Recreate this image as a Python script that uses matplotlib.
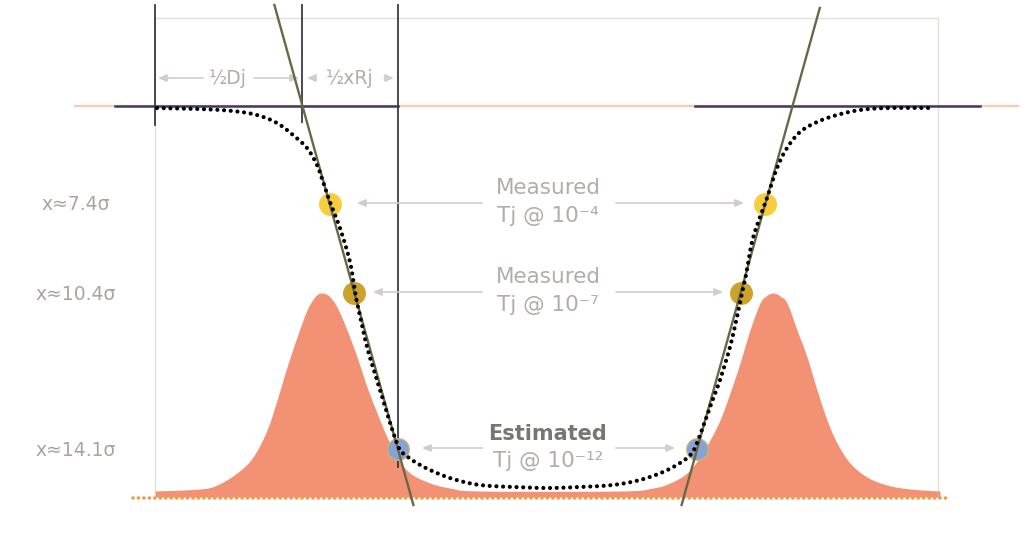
import matplotlib.pyplot as plt
import numpy as np

# bathtub curve (BER vs. sampling position), schematic units
tub_x = [157, 200, 233, 257, 277, 293, 307, 317, 323, 330, 340, 350, 355, 358, 367, 377, 387,
         394, 400, 408, 415, 430, 453, 480, 513, 547, 580, 613, 640, 663, 680, 692, 700, 710,
         720, 730, 737, 742, 746, 753, 767, 777, 787, 800, 817, 837, 860, 887, 933]
tub_y = [108, 109, 111, 115, 123, 135, 148, 165, 182, 202, 228, 262, 292, 307, 347, 380, 413,
         435, 450, 457, 462, 470, 479, 485, 487, 488, 487, 485, 480, 472, 463, 453, 435, 407,
         380, 347, 317, 293, 275, 238, 198, 168, 148, 132, 122, 115, 110, 108, 108]

# jitter histogram outline (two crossing peaks + floor)
hist_x = [155, 200, 217, 237, 253, 267, 277, 287, 297, 307, 314, 318, 322, 326, 330, 337, 347,
          357, 367, 377, 387, 397, 410, 430, 450, 480, 620, 653, 670, 687, 700, 710, 720, 730,
          740, 750, 760, 766, 769, 773, 777, 780, 787, 797, 807, 817, 827, 837, 850, 867, 887,
          910, 940]
hist_y = [491, 489, 485, 473, 457, 430, 400, 367, 337, 310, 298, 294, 293, 294, 297, 307, 330,
          357, 387, 413, 437, 457, 473, 483, 488, 491, 491, 488, 483, 473, 457, 440, 420, 393,
          363, 330, 303, 296, 294, 293, 294, 296, 303, 330, 357, 390, 420, 443, 463, 477, 485,
          489, 491]
hist_base = 497

# measured / estimated crossing points, left and right edge
ber_exp = [4, 7, 12]
sigma_lbl = ['x≈7.4σ', 'x≈10.4σ', 'x≈14.1σ']
pt_y = [204, 293, 449]
pt_left_x = [330, 354, 398]
pt_right_x = [765, 741, 697]
pt_colors = ['#f7cd3e', '#cda22a', '#86a2d6']

level_top = 106      # BER = 0.5 level
x_dj = 155           # start of deterministic part
x_tangent = 302      # tangent crossing with top level
x_rj = 398           # edge at 10^-12

text_gray = '#b3aca8'


def smooth(x, y, n=8):
    # catmull-rom through the points, just for a rounder outline
    p = np.column_stack([x, y]).astype(float)
    p = np.vstack([p[0], p, p[-1]])
    out = []
    t = np.linspace(0, 1, n, endpoint=False)[:, None]
    for i in range(1, len(p) - 2):
        p0, p1, p2, p3 = p[i - 1], p[i], p[i + 1], p[i + 2]
        seg = 0.5 * (2 * p1 + (-p0 + p2) * t + (2 * p0 - 5 * p1 + 4 * p2 - p3) * t ** 2
                     + (-p0 + 3 * p1 - 3 * p2 + p3) * t ** 3)
        out.append(seg)
    out.append(p[-2][None, :])
    out = np.vstack(out)
    return out[:, 0], out[:, 1]


fig = plt.figure(figsize=(10.3, 5.35), dpi=100)
ax = fig.add_axes([0, 0, 1, 1])
ax.set_xlim(0, 1030)
ax.set_ylim(535, 0)
ax.axis('off')

# light frame
ax.plot([x_dj, x_dj, 938, 938], [492, 18, 18, 492], color='#e6dedb', lw=1, zorder=1)

# histogram
hx, hy = smooth(hist_x, hist_y)
ax.fill_between(hx, hy, hist_base, color='#f39174', lw=0, zorder=2)
ax.plot([133, 950], [hist_base + 1] * 2, color='#f29a4c', lw=2.6,
        linestyle=(0, (0.01, 1.5)), dash_capstyle='round', zorder=3)

# top level lines
ax.plot([75, 1018], [level_top] * 2, color='#f9c9b6', lw=1.6, zorder=2)
ax.plot([115, x_rj], [level_top] * 2, color='#3f3a68', lw=1.8, zorder=3)
ax.plot([695, 980], [level_top] * 2, color='#3f3a68', lw=1.8, zorder=3)

# Dj / Rj markers
ax.plot([x_dj, x_dj], [5, 125], color='#3a3a42', lw=1.3, zorder=3)
ax.plot([x_tangent, x_tangent], [5, 122], color='#3a3a42', lw=1.3, zorder=3)
ax.plot([x_rj, x_rj], [5, 467], color='#3a3a42', lw=1.3, zorder=3)

# crossing points
for y, xl, xr, c in zip(pt_y, pt_left_x, pt_right_x, pt_colors):
    ec = '#c8b47a' if c == '#86a2d6' else c
    ax.plot([xl, xr], [y, y], 'o', ms=15.5, color=c, mec=ec, mew=1, zorder=4, ls='none')

# tangent lines through the measured points
kl = np.polyfit(pt_y, pt_left_x, 1)
kr = np.polyfit(pt_y, pt_right_x, 1)
ax.plot(np.polyval(kl, [5, 505]), [5, 505], color='#6a6744', lw=1.7, zorder=5)
ax.plot(np.polyval(kr, [8, 505]), [8, 505], color='#6a6744', lw=1.7, zorder=5)

# bathtub curve
tx, ty = smooth(tub_x, tub_y)
ax.plot(tx, ty, color='black', lw=3, linestyle=(0, (0.01, 1.6)),
        dash_capstyle='round', zorder=6)

arrow = dict(arrowstyle='-|>,head_length=0.5,head_width=0.22', color='#d3cdca', lw=1.2,
             shrinkA=0, shrinkB=0)

# ½Dj / ½xRj dimension arrows
ax.annotate('', xy=(158, 78), xytext=(203, 78), arrowprops=arrow, zorder=3)
ax.annotate('', xy=(299, 78), xytext=(254, 78), arrowprops=arrow, zorder=3)
ax.text(228, 78, '½Dj', ha='center', va='center', fontsize=13.5, color=text_gray)
ax.annotate('', xy=(307, 78), xytext=(316, 78), arrowprops=arrow, zorder=3)
ax.annotate('', xy=(394, 78), xytext=(384, 78), arrowprops=arrow, zorder=3)
ax.text(350, 78, '½xRj', ha='center', va='center', fontsize=13.5, color=text_gray)

# sigma labels
for y, s in zip(pt_y, sigma_lbl):
    ax.text(76, y + 1, s, ha='center', va='center', fontsize=13.5, color='#aaa4a0')

# BER labels with arrows to the points
heads_l = [357, 373, 422]
heads_r = [744, 723, 675]
for i, (y, e) in enumerate(zip(pt_y, ber_exp)):
    sup = str(e).translate(str.maketrans('0123456789', '⁰¹²³⁴⁵⁶⁷⁸⁹'))
    ax.annotate('', xy=(heads_l[i], y - 1), xytext=(482, y - 1), arrowprops=arrow)
    ax.annotate('', xy=(heads_r[i], y - 1), xytext=(616, y - 1), arrowprops=arrow)
    if i < 2:
        ax.text(548, y - 16, 'Measured', ha='center', va='center', fontsize=15.5,
                color=text_gray)
    else:
        ax.text(548, y - 15, 'Estimated', ha='center', va='center', fontsize=15,
                color='#7b7572', fontweight='bold')
    ax.text(548, y + 12, 'Tj @ 10⁻' + sup, ha='center', va='center', fontsize=15.5,
            color=text_gray)

fig.savefig('out.png', dpi=100, facecolor='white')
